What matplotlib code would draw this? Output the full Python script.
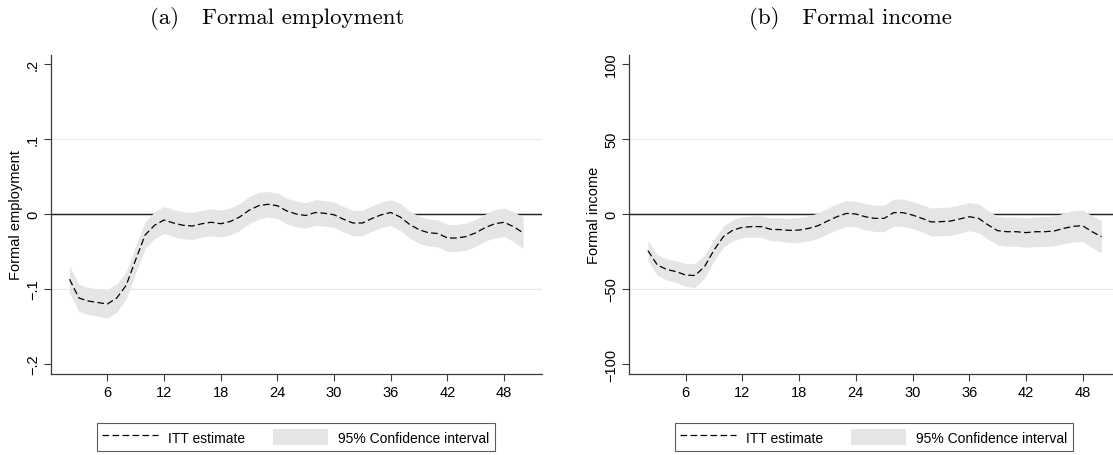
import numpy as np
import matplotlib
matplotlib.use("Agg")
import matplotlib.pyplot as plt
from matplotlib.lines import Line2D
from matplotlib.patches import Patch

# ---------------- data ----------------
months = list(range(2, 51))

itt_employment = [-0.087, -0.112, -0.116, -0.118, -0.120, -0.112, -0.095, -0.061, -0.028,
                  -0.015, -0.008, -0.012, -0.015, -0.016, -0.013, -0.011, -0.013, -0.010,
                  -0.004, 0.005, 0.011, 0.013, 0.011, 0.004, 0.000, -0.002, 0.002, 0.001,
                  -0.001, -0.007, -0.012, -0.012, -0.006, -0.001, 0.002, -0.004, -0.014,
                  -0.021, -0.025, -0.026, -0.032, -0.032, -0.030, -0.025, -0.018, -0.013,
                  -0.011, -0.017, -0.025]
ci_half_employment = [0.018, 0.018, 0.018, 0.018, 0.019, 0.019, 0.018, 0.018, 0.018,
                      0.018, 0.018, 0.018, 0.018, 0.018, 0.018, 0.018, 0.018, 0.018,
                      0.018, 0.018, 0.018, 0.017, 0.017, 0.017, 0.017, 0.017, 0.017, 0.017,
                      0.017, 0.017, 0.017, 0.017, 0.017, 0.017, 0.017, 0.018, 0.018,
                      0.018, 0.018, 0.018, 0.018, 0.018, 0.018, 0.018, 0.018, 0.019,
                      0.019, 0.020, 0.021]

itt_income = [-24.4, -34.0, -37.0, -38.4, -40.7, -41.0, -35.0, -24.0, -15.0,
              -10.7, -8.9, -8.4, -8.4, -10.2, -10.4, -10.9, -10.7, -9.6,
              -7.8, -4.7, -1.8, 0.4, 0.0, -1.8, -2.9, -2.9, 0.9, 0.9,
              -0.7, -2.9, -5.3, -5.1, -4.7, -3.3, -1.8, -2.9, -7.3,
              -11.1, -11.8, -11.8, -12.4, -11.8, -11.8, -11.3, -9.6, -8.2,
              -7.8, -11.8, -15.1]
ci_half_income = [6.5, 6.8, 7.0, 7.3, 7.6, 8.0, 7.5, 7.2, 7.0,
                  7.0, 7.0, 7.0, 7.2, 7.5, 7.8, 8.0, 8.3, 8.4,
                  8.5, 8.5, 8.6, 8.6, 8.6, 8.7, 8.7, 8.8, 9.0, 9.0,
                  9.0, 9.1, 9.3, 9.4, 9.4, 9.4, 9.4, 9.5, 9.6,
                  9.6, 9.7, 9.7, 9.8, 9.9, 10.0, 10.0, 10.2, 10.4,
                  10.5, 10.6, 10.8]

x_ticks = [6, 12, 18, 24, 30, 36, 42, 48]
emp_ticks = [-0.2, -0.1, 0.0, 0.1, 0.2]
emp_ticklabels = ["\u2212.2", "\u2212.1", "0", ".1", ".2"]
inc_ticks = [-100, -50, 0, 50, 100]
inc_ticklabels = ["\u2212100", "\u221250", "0", "50", "100"]

titles = ["(a)   Formal employment", "(b)   Formal income"]
ylabels = ["Formal employment", "Formal income"]
legend_labels = ["ITT estimate", "95% Confidence interval"]

# ---------------- style ----------------
plt.rcParams["font.family"] = ["Liberation Sans", "DejaVu Sans"]
plt.rcParams["lines.scale_dashes"] = False

W, H = 1113, 456
fig = plt.figure(figsize=(W / 100, H / 100), dpi=100)

band_color = "#e5e5e5"
axis_color = "#3a3a3a"
grid_color = "#e8e8e8"
dash = (4.8, 2.4)

panels = [
    dict(left=50.6, est=itt_employment, hw=ci_half_employment, yt=emp_ticks,
         ytl=emp_ticklabels, ylim=(-0.2133, 0.212), xlim=(0, 52), grid=[-0.1, 0.1],
         title=titles[0], tx=277, ylabel=ylabels[0], legx=296),
    dict(left=629.0, est=itt_income, hw=ci_half_income, yt=inc_ticks,
         ytl=inc_ticklabels, ylim=(-106.65, 106.0), xlim=(0, 52), grid=[-50, 50],
         title=titles[1], tx=850, ylabel=ylabels[1], legx=874),
]

ax_w = 491.4
ax_top, ax_bot = 56, 375
for p in panels:
    ax = fig.add_axes([p["left"] / W, (H - ax_bot) / H, ax_w / W, (ax_bot - ax_top) / H])
    x = np.array(months)
    est = np.array(p["est"])
    hw = np.array(p["hw"])
    for g in p["grid"]:
        ax.axhline(g, color=grid_color, lw=0.8, zorder=1)
    ax.axhline(0, color="#222222", lw=1.05, zorder=2)
    ax.fill_between(x, est - hw, est + hw, color=band_color, lw=0, zorder=3)
    ax.plot(x, est, color="black", lw=0.9, linestyle=(0, dash), zorder=4)

    ax.set_xlim(*p["xlim"])
    ax.set_ylim(*p["ylim"])
    ax.set_xticks(x_ticks)
    ax.set_xticklabels([str(t) for t in x_ticks])
    ax.set_yticks(p["yt"])
    ax.set_yticklabels(p["ytl"])
    ax.tick_params(axis="both", direction="out", length=4.7, width=0.8, color=axis_color,
                   labelsize=10.5, pad=3)
    ax.tick_params(axis="y", labelrotation=90)
    for lab in ax.get_yticklabels():
        lab.set_verticalalignment("center")
    for s in ["top", "right"]:
        ax.spines[s].set_visible(False)
    for s in ["left", "bottom"]:
        ax.spines[s].set_color(axis_color)
        ax.spines[s].set_linewidth(0.9)
    ax.set_ylabel(p["ylabel"], fontsize=10.5)
    ax.yaxis.set_label_coords(-35 / ax_w, 0.5)
    ax.yaxis.label.set_verticalalignment("center")

    fig.text(p["tx"] / W, 1 - 24 / H, p["title"], ha="center", va="baseline",
             family="cmr10", fontsize=16.5)

    handles = [Line2D([], [], color="black", lw=0.9, linestyle=(0, dash)),
               Patch(facecolor=band_color, edgecolor="none")]
    leg = fig.legend(handles, legend_labels, loc="center",
                     bbox_to_anchor=(p["legx"] / W, (H - 438) / H), ncol=2,
                     fontsize=10, frameon=True, fancybox=False, shadow=False,
                     handlelength=4.0, handleheight=1.4, handletextpad=0.72,
                     columnspacing=2.0, borderpad=0.4, borderaxespad=0)
    leg.get_frame().set_edgecolor("#333333")
    leg.get_frame().set_linewidth(0.8)

fig.savefig("out.png", dpi=100)
